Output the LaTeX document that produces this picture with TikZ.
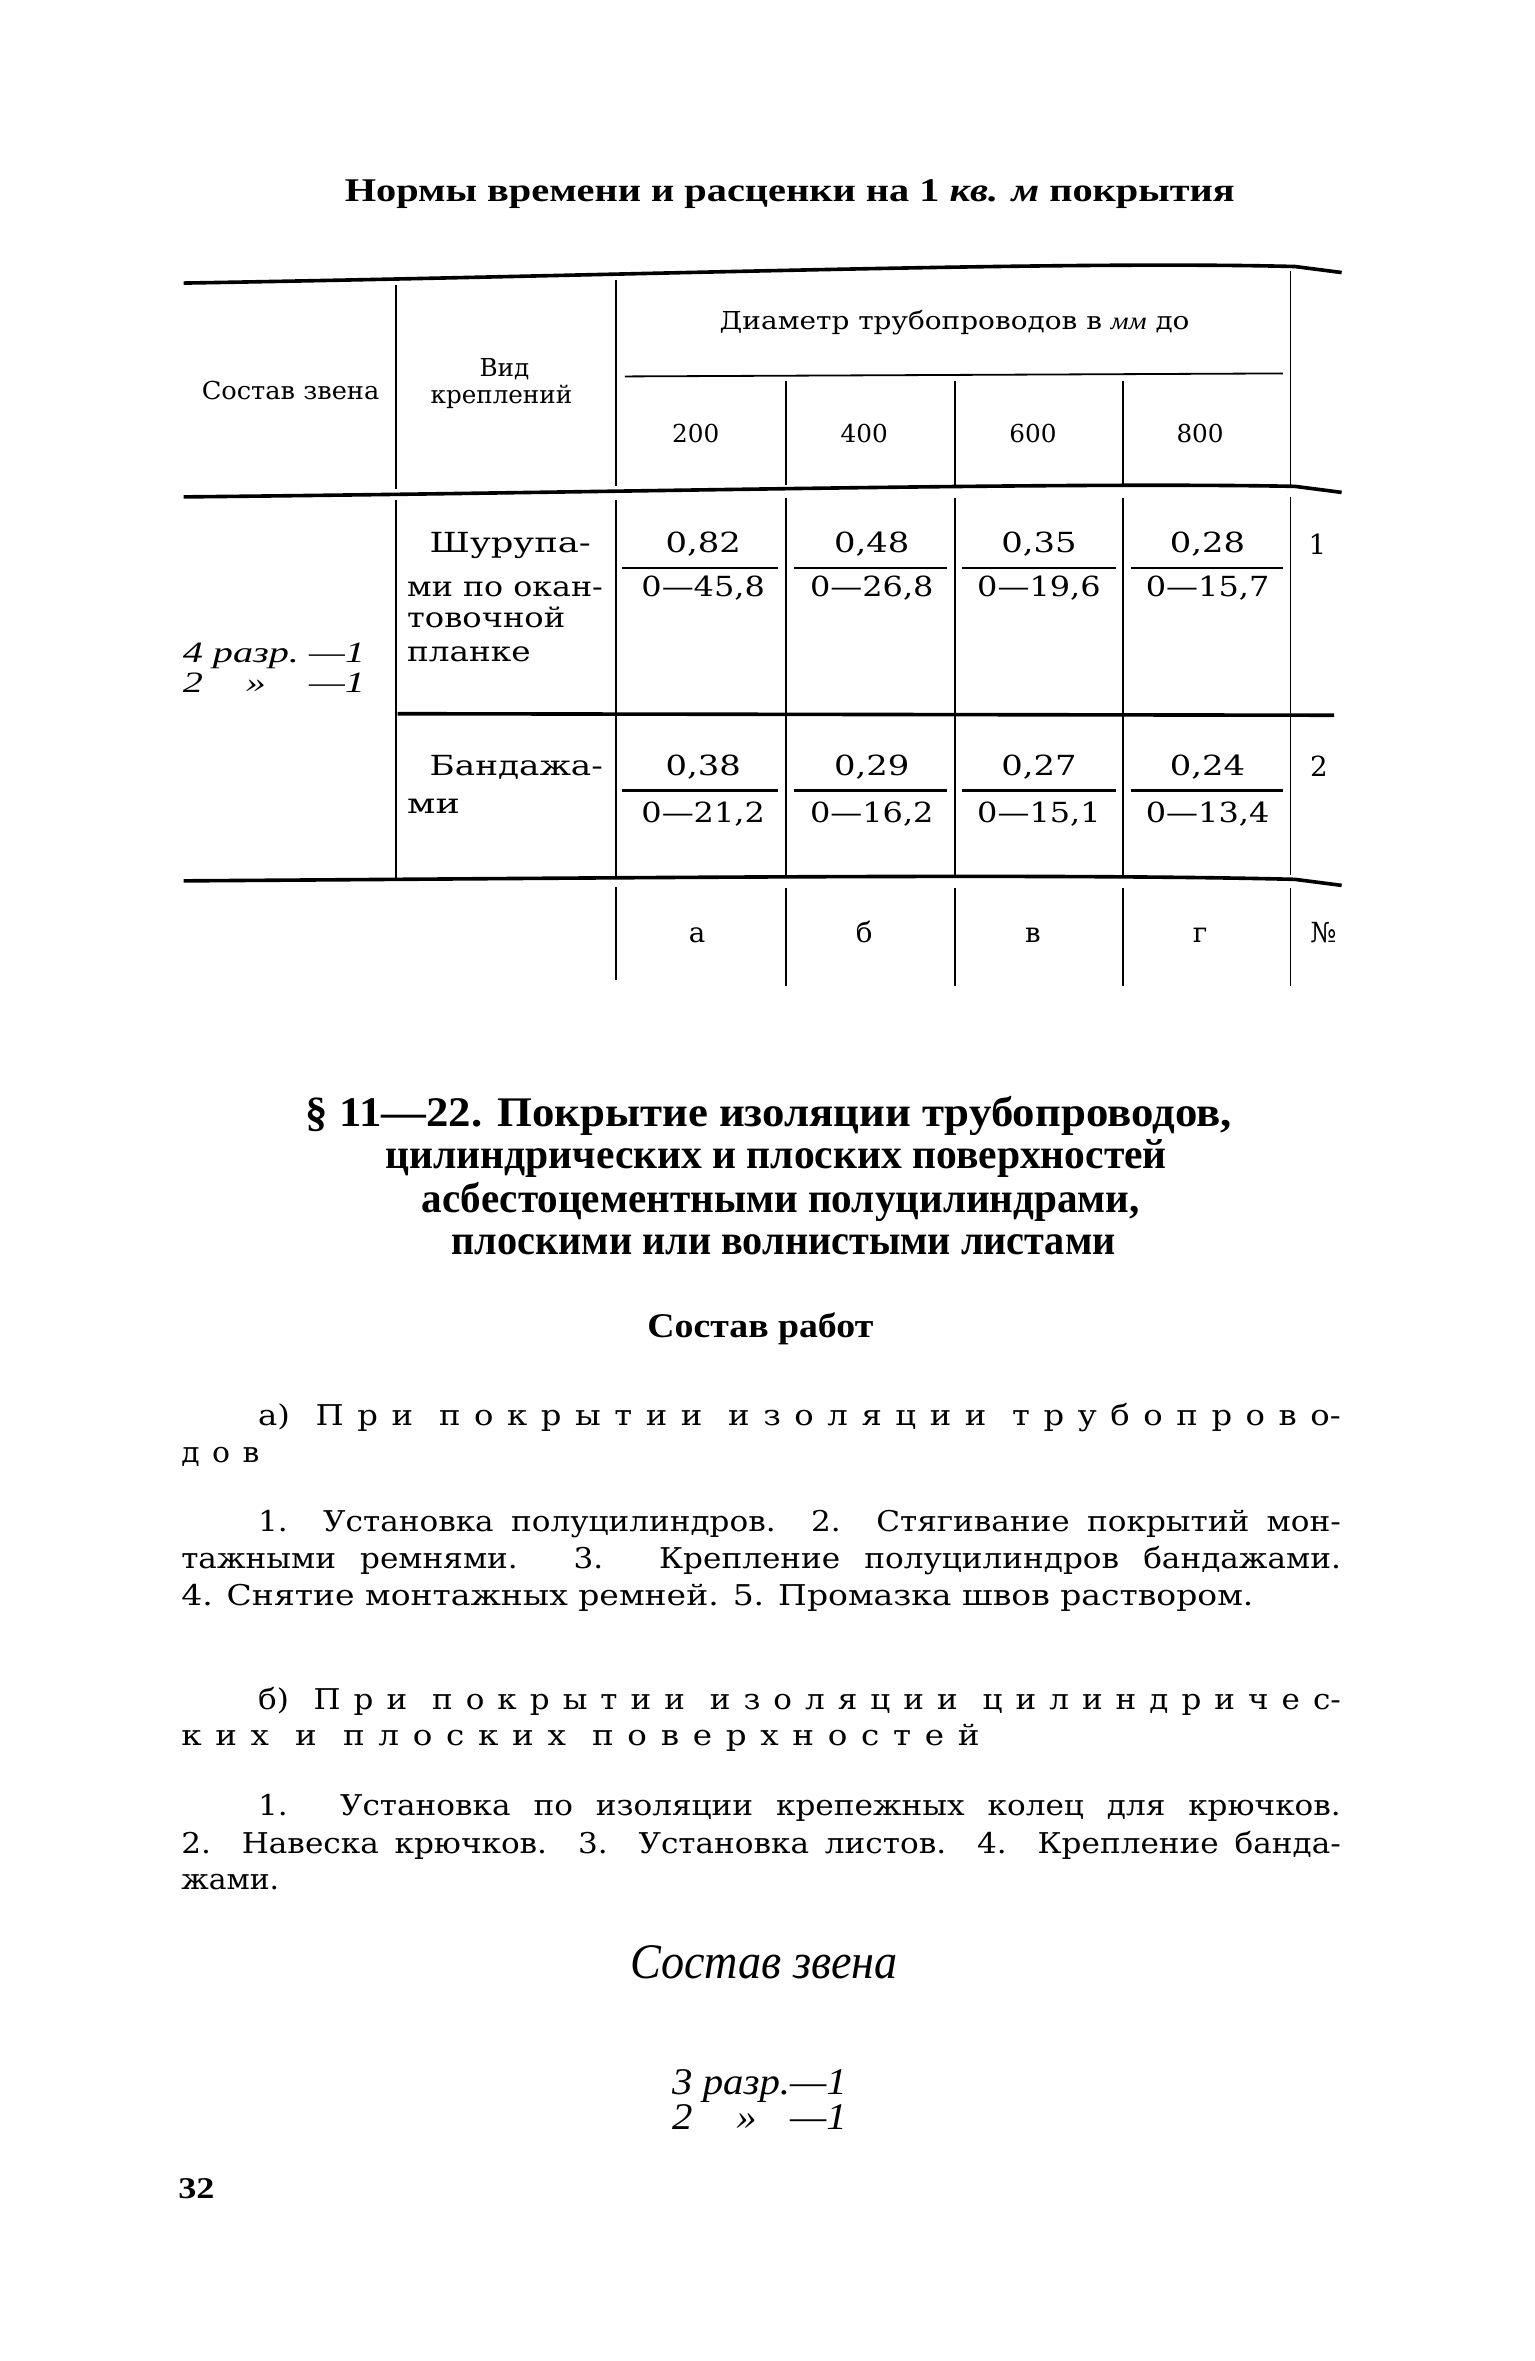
\documentclass[tikz,border=0pt]{standalone}
\usepackage{fontspec}
\usepackage{graphicx}
\setmainfont{DejaVu Serif}
\newfontfamily\headfont{Liberation Serif}
\newfontfamily\spacedfont[LetterSpace=42]{DejaVu Serif}
\newlength\natw
\newcommand{\fit}[2]{\resizebox{#1}{\height}{#2}}
\newcommand{\jfit}[2]{\settowidth{\natw}{#2}\ifdim\natw<0.92\dimexpr#1\relax\natw=0.92\dimexpr#1\relax\fi\resizebox{#1}{\height}{\makebox[\natw][s]{#2}}}
\newcommand{\spc}{\hspace{0.8em}}
\newcommand{\titlef}{\headfont\bfseries\fontsize{11}{13}\selectfont}
\newcommand{\secf}{\headfont\bfseries\fontsize{14}{16}\selectfont}
\newcommand{\subf}{\headfont\bfseries\fontsize{11.5}{13}\selectfont}
\newcommand{\bodyf}{\fontsize{9.5}{11}\selectfont}
\newcommand{\thf}{\fontsize{8.2}{10}\selectfont}
\newcommand{\cellf}{\fontsize{9.2}{11}\selectfont}
\newcommand{\itf}{\headfont\itshape}

\begin{document}
\begin{tikzpicture}[
    x=0.5pt, y=-0.5pt,
    txt/.style={inner sep=0pt, anchor=base west},
    ctxt/.style={inner sep=0pt, anchor=base},
    rule/.style={line width=1.2pt},
    vline/.style={line width=0.6pt},
    bar/.style={line width=0.7pt}
]
    \path[use as bounding box, fill=white] (0,0) rectangle (1019,1568);

    \node[ctxt] (title) at (524.5,134) {\fit{295.5pt}{\titlef Нормы времени и расценки на 1 \textit{кв. м} покрытия}};

    % table rules
    \draw[rule] (122,188) .. controls (420,183) and (700,173) .. (860,177) -- (891,181);
    \draw[rule] (122,330) .. controls (420,327) and (700,320) .. (860,323) -- (891,327);
    \draw[rule] (264,474) -- (886,475);
    \draw[rule] (122,585) .. controls (420,583) and (700,580) .. (860,584) -- (891,588);
    \draw[vline] (415,250) -- (852,248);

    \draw[vline] (263,189) -- (263,325) (263,332) -- (263,583);
    \draw[vline] (409,186) -- (409,323) (409,332) -- (409,582) (409,589) -- (409,651);
    \foreach \xc in {522,634,746}
        \draw[vline] (\xc,253) -- (\xc,322) (\xc,331) -- (\xc,581) (\xc,590) -- (\xc,655);
    \draw[vline] (857,180) -- (857,322) (857,330) -- (857,581) (857,590) -- (857,655);

    \node[ctxt] (hcomp) at (193,265.5) {\fit{59pt}{\thf Состав звена}};
    \node[ctxt] (hvid) at (335,250) {\thf Вид};
    \node[ctxt] (hkrep) at (333,268) {\fit{47pt}{\thf креплений}};
    \node[ctxt] (hdiam) at (634,219) {\fit{156pt}{\thf Диаметр трубопроводов в {\itf мм} до}};
    \foreach \xc/\d in {462/200,574/400,686/600,797/800}
        \node[ctxt] (hd\d) at (\xc,294) {\thf \d};

    \node[txt] (crew) at (121,440) {\fit{60.5pt}{\fontsize{9.8}{10}\selectfont\itf\begin{tabular}[t]{@{}l@{\ }c@{\ }r@{}}4 & разр. & —1\\ 2 & » & —1\end{tabular}}};

    \node[txt] (r1a) at (285,367) {\fit{53.5pt}{\cellf Шурупа-}};
    \node[txt] (r1b) at (270,396) {\fit{65pt}{\cellf ми по окан-}};
    \node[txt] (r1c) at (270,417) {\fit{52.5pt}{\cellf товочной}};
    \node[txt] (r1d) at (270,439) {\fit{41pt}{\cellf планке}};
    \node[txt] (r2a) at (285,515) {\fit{57.5pt}{\cellf Бандажа-}};
    \node[txt] (r2b) at (270,540) {\fit{17.5pt}{\cellf ми}};

    \foreach \xc/\xa/\xb/\na/\da/\nb/\db [count=\i] in {
        467/413/517/{0,82}/{0—45,8}/{0,38}/{0—21,2},
        579/527/629/{0,48}/{0—26,8}/{0,29}/{0—16,2},
        690/639/741/{0,35}/{0—19,6}/{0,27}/{0—15,1},
        802/751/852/{0,28}/{0—15,7}/{0,24}/{0—13,4}}
    {
        \node[ctxt] (n1\i) at (\xc,367) {\fit{25pt}{\cellf \na}};
        \node[ctxt] (d1\i) at (\xc,396) {\fit{41pt}{\cellf \da}};
        \draw[bar] (\xa,377) -- (\xb,377);
        \node[ctxt] (n2\i) at (\xc,515) {\fit{25pt}{\cellf \nb}};
        \node[ctxt] (d2\i) at (\xc,546) {\fit{41pt}{\cellf \db}};
        \draw[bar] (\xa,525) -- (\xb,525);
    }
    \node[ctxt] (no1) at (875,368) {\cellf 1};
    \node[ctxt] (no2) at (876,516) {\cellf 2};

    \foreach \xc/\l [count=\i] in {463/а,574/б,686/в,797/г}
        \node[ctxt] (ft\i) at (\xc,626) {\cellf \l};
    \node[ctxt] (ftno) at (879,626) {\cellf №};

    \node[ctxt] (sec1) at (510.5,748) {\fit{307.5pt}{\secf § 11—22. Покрытие изоляции трубопроводов,}};
    \node[ctxt] (sec2) at (515.5,776) {\fit{259.5pt}{\secf цилиндрических и плоских поверхностей}};
    \node[ctxt] (sec3) at (518.5,805) {\fit{238.5pt}{\secf асбестоцементными полуцилиндрами,}};
    \node[ctxt] (sec4) at (520.5,833) {\fit{220.5pt}{\secf плоскими или волнистыми листами}};
    \node[ctxt] (works) at (505,888) {\fit{75pt}{\subf Состав работ}};

    \node[txt] (pa1) at (171,947) {\fit{359.5pt}{\bodyf а)\spc{\spacedfont При\spc покрытии\spc изоляции\spc трубопрово}-}};
    \node[txt] (pa2) at (120,971) {\fit{26pt}{\bodyf\spacedfont дов}};
    \node[txt] (pa3) at (171,1017) {\jfit{359.5pt}{\bodyf 1. Установка полуцилиндров. 2. Стягивание покрытий мон-}};
    \node[txt] (pa4) at (120,1042) {\jfit{385pt}{\bodyf тажными ремнями. 3. Крепление полуцилиндров бандажами.}};
    \node[txt] (pa5) at (120,1066) {\fit{356pt}{\bodyf 4. Снятие монтажных ремней. 5. Промазка швов раствором.}};

    \node[txt] (pb1) at (171,1135) {\fit{359.5pt}{\bodyf б)\spc{\spacedfont При\spc покрытии\spc изоляции\spc цилиндричес}-}};
    \node[txt] (pb2) at (120,1159) {\fit{265pt}{\bodyf\spacedfont ких\spc и\spc плоских\spc поверхностей}};
    \node[txt] (pb3) at (171,1206) {\jfit{359.5pt}{\bodyf 1. Установка по изоляции крепежных колец для крючков.}};
    \node[txt] (pb4) at (120,1231) {\jfit{385pt}{\bodyf 2. Навеска крючков. 3. Установка листов. 4. Крепление банда-}};
    \node[txt] (pb5) at (120,1255) {\fit{32.5pt}{\bodyf жами.}};

    \node[txt] (crewt) at (418,1314) {\fit{89pt}{\fontsize{16.5}{18}\selectfont\itf Состав звена}};
    \node[txt] (crewl) at (446,1391) {\fit{58pt}{\fontsize{12.5}{11}\selectfont\itf\begin{tabular}[t]{@{}l@{\ }c@{}r@{}}3 & разр. & —1\\ 2 & » & —1\end{tabular}}};

    \node[txt] (page) at (118,1460) {\fit{12pt}{\headfont\bfseries\fontsize{10}{12}\selectfont 32}};
\end{tikzpicture}
\end{document}
